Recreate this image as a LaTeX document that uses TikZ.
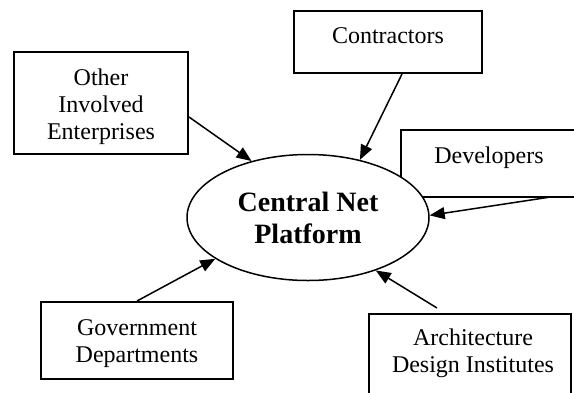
\documentclass[tikz,border=0pt]{standalone}
\usepackage{fontspec}
\setmainfont{Liberation Serif}
\usetikzlibrary{arrows.meta,fit,shapes.geometric}
\begin{document}
\begin{tikzpicture}[x=0.5pt,y=-0.5pt,
  box/.style={draw,line width=1pt,inner sep=0pt,fit={#1}},
  openbox/.style={draw=none,inner sep=0pt,fit={#1}},
  edge/.style={line width=1pt},
  lbl/.style={font=\fontsize{12}{13.5}\selectfont,align=center,anchor=base,inner sep=0pt},
  link/.style={line width=0.75pt,-{Triangle[length=7.5pt,width=6pt]}}]
\useasboundingbox (0,0) rectangle (574,392);
\clip (0,0) rectangle (574,392);
% boxes
\node[box={(14,52) (188,154)}] (oth) {};
\node[box={(294,11) (482,73)}] (con) {};
\node[openbox={(401,130) (640,197)}] (dev) {};
\draw[edge] (dev.north east) -- (dev.north west) -- (dev.south west) -- (dev.south east);
\node[box={(41,302) (233,379)}] (gov) {};
\node[box={(369,314) (571,420)}] (arc) {};
% labels (base = baseline of the last line)
\node[lbl] (toth) at (101,139) {Other\\Involved\\Enterprises};
\node[lbl] (tcon) at (388,43) {Contractors};
\node[lbl] (tdev) at (489,163) {Developers};
\node[lbl] (tgov) at (137,362) {Government\\Departments};
\node[lbl] (tarc) at (473,372) {Architecture\\Design Institutes};
% central ellipse (white fill hides the corner of the Developers box)
\node[ellipse,draw,fill=white,line width=0.75pt,minimum width=121pt,minimum height=63pt,inner sep=0pt,
  font=\fontsize{14}{16}\selectfont\bfseries,align=center] (cnp) at (308,217.5) {Central Net\\Platform};
% connectors
\coordinate (arcend) at (437,308);
\draw[link] (oth.east |- 0,117) -- (cnp.135);
\draw[link] (con.south -| 402,0) -- (cnp.48);
\draw[link] (dev.south -| 548,0) -- (cnp.1);
\draw[link] (gov.north -| 137,0) -- (cnp.204);
\draw[link] (arcend) -- (cnp.322);
\end{tikzpicture}
\end{document}
